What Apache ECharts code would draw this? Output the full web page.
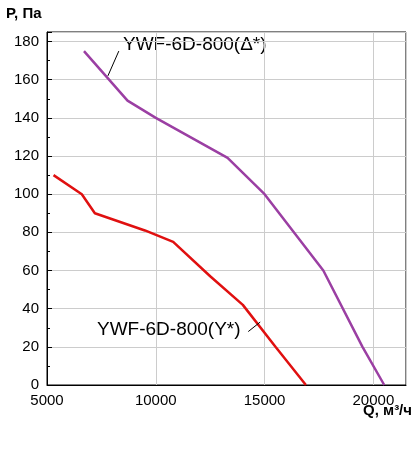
<!DOCTYPE html><html><head><meta charset="utf-8"><script src="https://cdn.jsdelivr.net/npm/echarts@6/dist/echarts.min.js"></script></head><body style="margin:0;background:#fff"><div id="c" style="width:420px;height:450px"></div><script>
const xTicks=[5000,10000,15000,20000];
const purpleQ=[6700,8700,10000,13300,15000,17700,19500,20500];
const purpleP=[175,149,140,119,100,60,20,0];
const redQ=[5300,6600,7200,9500,10800,12500,14000,15500,16900];
const redP=[110,100,90,81,75,57,42,20,0];
const purpleName='YWF-6D-800(Δ*)', redName='YWF-6D-800(Y*)';
const f='Liberation Sans, Arial, sans-serif';
const ch=echarts.init(document.getElementById('c'));
const z=(a,b)=>a.map((v,i)=>[v,b[i]]);
ch.setOption({animation:false,
grid:{left:47,right:14,top:32,bottom:65},
xAxis:{type:'value',min:5000,max:21500,interval:5000,axisLine:{lineStyle:{color:'#000'}},axisTick:{show:false},
 axisLabel:{color:'#000',fontSize:15,fontFamily:f,formatter:v=>xTicks.includes(v)?v:''},
 splitLine:{lineStyle:{color:'#ccc'}},minorTick:{show:false}},
yAxis:{type:'value',min:0,max:185,interval:20,axisLine:{show:true,lineStyle:{color:'#000'}},
 axisTick:{show:true,inside:true,lineStyle:{color:'#000'}},minorTick:{show:true,splitNumber:2,length:3,lineStyle:{color:'#000'}},
 axisLabel:{color:'#000',fontSize:15,fontFamily:f,formatter:v=>v%20===0?v:''},splitLine:{lineStyle:{color:'#ccc'}}},
graphic:[
 {type:'rect',shape:{x:47,y:32,width:359,height:353},style:{fill:'none',stroke:'#000',lineWidth:1}},
 {type:'text',left:6,top:6,style:{text:'P, Па',font:'bold 15px '+f,fill:'#000'}},
 {type:'text',right:8,top:403,style:{text:'Q, м³/ч',font:'bold 15px '+f,fill:'#000'}},
 {type:'text',left:123,top:35,style:{text:purpleName,font:'19px '+f,fill:'#000'}},
 {type:'text',left:97,top:320,style:{text:redName,font:'19px '+f,fill:'#000'}}
],
series:[
 {type:'line',data:z(purpleQ,purpleP),symbol:'none',lineStyle:{color:'#9b3fa3',width:2.5},
  markLine:{silent:true,symbol:'none',label:{show:false},lineStyle:{color:'#000',width:1,type:'solid'},data:[[{coord:[8300,175]},{coord:[7800,162]}]]}},
 {type:'line',data:z(redQ,redP),symbol:'none',lineStyle:{color:'#e01010',width:2.5},
  markLine:{silent:true,symbol:'none',label:{show:false},lineStyle:{color:'#000',width:1,type:'solid'},data:[[{coord:[14250,28]},{coord:[14800,33]}]]}}
]});
</script></body></html>
